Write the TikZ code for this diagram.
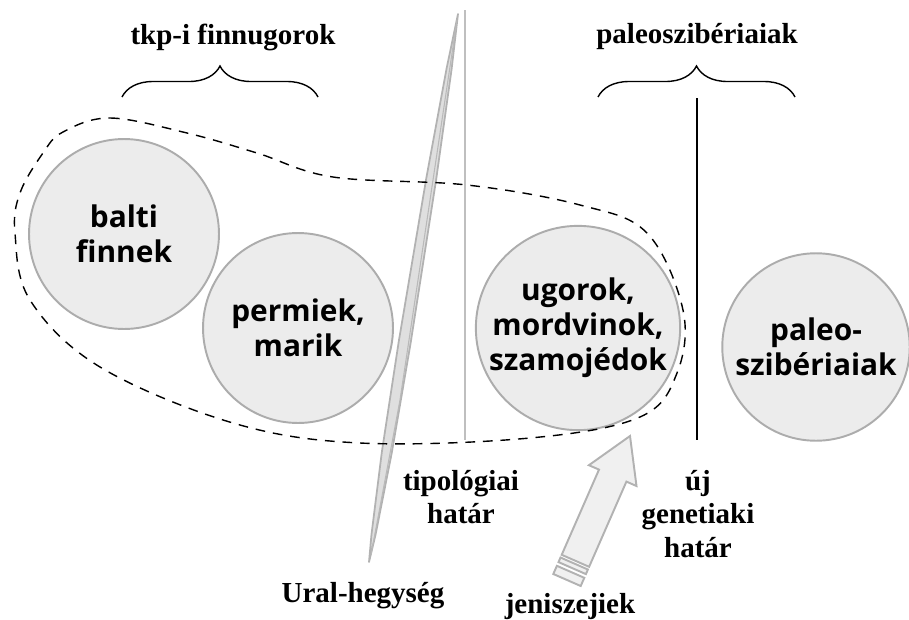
\documentclass[tikz,border=0pt]{standalone}
\usepackage{fontspec}
\setmainfont{Liberation Serif}
\newfontfamily\grpfont{Open Sans}
\usetikzlibrary{decorations.pathreplacing}

\begin{document}
\begin{tikzpicture}[x=0.02cm, y=-0.02cm,
  group/.style={circle, draw=gray!65, line width=1.1pt, fill=gray!15, minimum size=3.8cm, inner sep=0pt, align=center, font=\grpfont\bfseries\fontsize{17}{20}\selectfont},
  caption/.style={align=center, inner sep=1pt, font=\bfseries\fontsize{16.5}{19}\selectfont}]
  \useasboundingbox (0,0) rectangle (909,619);

  % Groups
  \node[group] (balti) at (124,234) {balti\\finnek};
  \node[group] (permiek) at (298,328) {permiek,\\marik};
  \node[group] (ugorok) at (578,328) {ugorok,\\mordvinok,\\szamojédok};
  \node[group, minimum size=3.75cm] (paleo) at (816,347) {paleo-\\szibériaiak};

  % Borders
  \coordinate (tiptop) at (465,10);
  \coordinate (tipbot) at (465,440);
  \coordinate (gentop) at (697,98);
  \coordinate (genbot) at (697,440);
  \draw[gray!50, line width=1pt] (tiptop) -- (tipbot);
  \draw[black, line width=0.9pt] (gentop) -- (genbot);

  % Ural mountains
  \draw[gray!60, fill=gray!25, line width=1pt, line join=round]
    (458,14) -- (451.6,69.2) -- (436.2,179.2) -- (410.5,343.8) -- (391.7,453.2) -- (375.5,534.9)
    -- (369,562) -- (371.5,534.3) -- (381.9,451.6) -- (398.7,341.8) -- (426.4,177.6) -- (446.6,68.4) -- cycle;
  \draw[gray!55, line width=0.6pt] (457,20) -- (400,400) -- (371,555);

  % Proto-Uralic area
  \draw[dashed, dash pattern=on 5.5pt off 4.5pt, line width=0.8pt]
    plot[smooth cycle, tension=0.6] coordinates {(63,132) (110,118) (187,133) (257,153) (333,177) (467,185)
      (580,205) (647,233) (683,310) (677,373) (640,417) (530,438) (360,443) (233,423) (100,367) (30,300)
      (15,233) (20,193) (43,153)};

  % Yeniseian arrow
  \draw[gray!60, fill=gray!12, line width=1.1pt, line join=miter]
    (630,436) -- (636.5,486) -- (626.4,481.6) -- (589.1,566.8) -- (561.7,554.8) -- (599,469.6) -- (588.9,465.2) -- cycle;
  \draw[gray!60, fill=gray!12, line width=1.1pt] (587.9,569.5) -- (585.9,574.1) -- (558.5,562.1) -- (560.5,557.5) -- cycle;
  \draw[gray!60, fill=gray!12, line width=1.1pt] (584.3,577.8) -- (580.7,586) -- (553.3,574) -- (556.9,565.8) -- cycle;

  % Braces
  \draw[line width=0.8pt, decorate, decoration={brace, amplitude=0.62cm}] (122,97) -- (318,97);
  \draw[line width=0.8pt, decorate, decoration={brace, amplitude=0.62cm}] (598,97) -- (795,97);

  % Labels
  \node[caption] (finnugor) at (233,37) {tkp-i finnugorok};
  \node[caption] (paleolab) at (697,37) {paleoszibériaiak};
  \node[caption] (tipolab) at (461,497) {tipológiai\\határ};
  \node[caption] (genlab) at (698,514) {új\\genetiaki\\határ};
  \node[caption] (ural) at (363,596) {Ural-hegység};
  \node[caption] (jenisz) at (570,607) {jeniszejiek};
\end{tikzpicture}
\end{document}
